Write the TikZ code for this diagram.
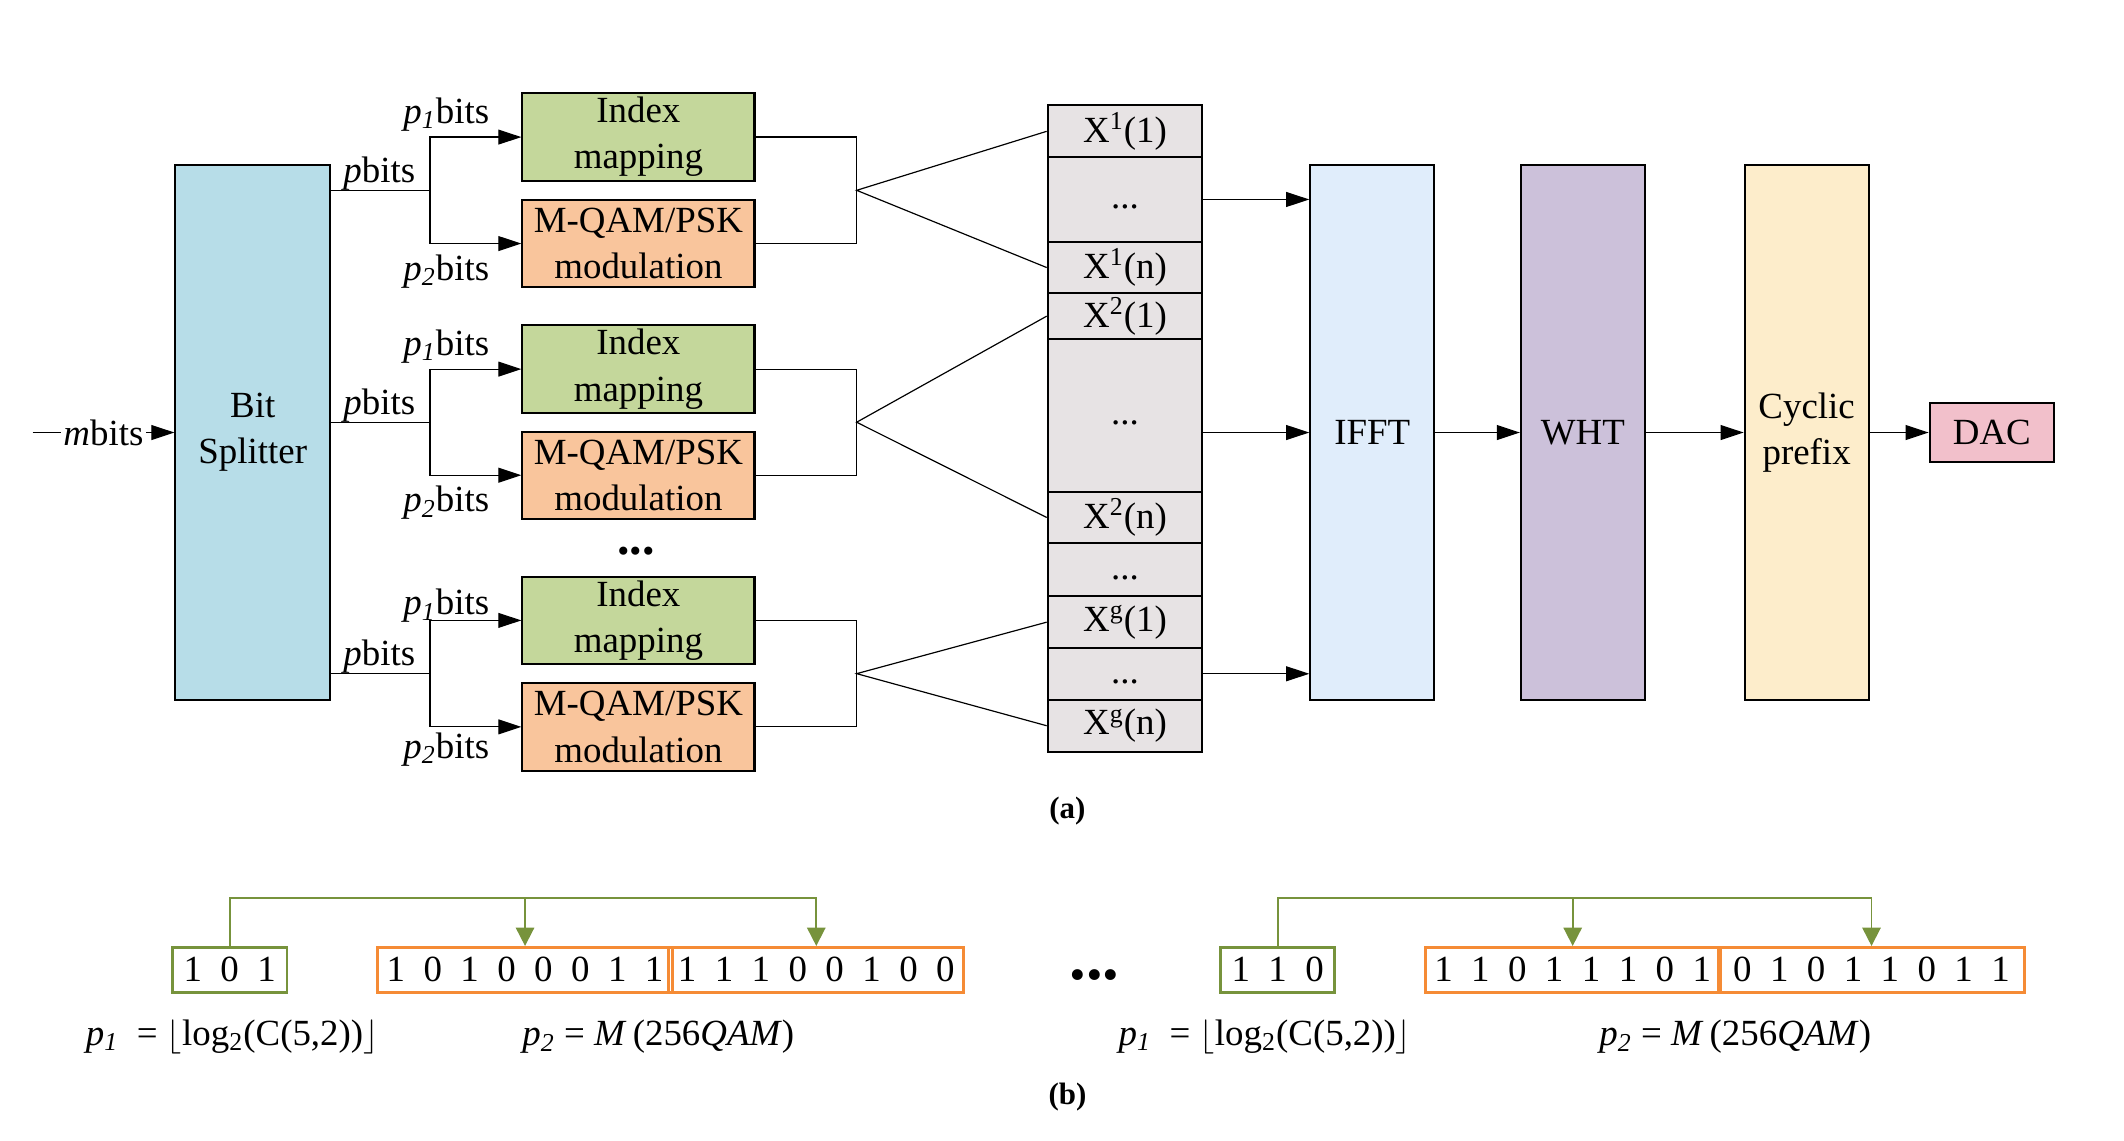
\documentclass[tikz,border=0pt]{standalone}
\usepackage{fontspec}
\setmainfont{Liberation Serif}
\usepackage{tikz}
\usetikzlibrary{arrows.meta, positioning, calc}
\definecolor{splitblue}{HTML}{B7DDE8}
\definecolor{idxgreen}{HTML}{C4D79B}
\definecolor{modorange}{HTML}{F9C59C}
\definecolor{cellgray}{HTML}{E7E3E4}
\definecolor{ifftblue}{HTML}{E0EDFB}
\definecolor{whtpurple}{HTML}{CCC1DA}
\definecolor{cpyellow}{HTML}{FDEDCB}
\definecolor{dacpink}{HTML}{F2C0CB}
\definecolor{lgreen}{HTML}{77933C}
\definecolor{lorange}{HTML}{F58B35}
\newcommand{\bitrow}[1]{\foreach \d in {#1}{\makebox[1em]{\d}}}
\tikzset{
    blk/.style={draw, line width=0.85pt, align=center, inner sep=0pt},
    tallbox/.style={blk, minimum width=1.83cm, minimum height=7.9cm},
    idxbox/.style={blk, fill=idxgreen, minimum width=3.428cm, minimum height=1.29cm},
    modbox/.style={blk, fill=modorange, minimum width=3.428cm, minimum height=1.29cm},
    cell/.style={blk, fill=cellgray, minimum width=2.284cm},
    link/.style={draw, line width=0.5pt},
    arr/.style={link, -{Triangle[length=0.34cm, width=0.22cm]}},
    lbl/.style={anchor=base, inner sep=0pt},
    bitbox/.style={draw, line width=1.2pt, inner sep=0pt, minimum height=0.664cm},
    gbox/.style={bitbox, draw=lgreen, minimum width=1.69cm},
    obox/.style={bitbox, draw=lorange, minimum width=4.30cm},
    gline/.style={draw=lgreen, line width=0.75pt, -{Triangle[length=0.27cm, width=0.27cm]}},
}

\begin{document}
\begin{tikzpicture}[x=0.02cm, y=-0.02cm, font=\fontsize{15.5}{19.4}\selectfont]
    \useasboundingbox (0,0) rectangle (1568,842.3);

    % (a) transmitter
    \node[blk, fill=splitblue, minimum width=2.284cm, minimum height=7.9cm] (split) at (186.6,319.3) {Bit\\Splitter};
    \coordinate (min) at (24,319.3);
    \draw[arr] (min) -- node[fill=white, inner sep=1pt] {\textit{m}bits} (split);

    \node[idxbox] (idx1) at (471.3,101.2) {Index\\mapping};
    \node[modbox] (mod1) at (471.3,179.8) {M-QAM/PSK\\modulation};
    \node[idxbox] (idx2) at (471.3,272.5) {Index\\mapping};
    \node[modbox] (mod2) at (471.3,350.8) {M-QAM/PSK\\modulation};
    \node[idxbox] (idx3) at (471.3,458) {Index\\mapping};
    \node[modbox] (mod3) at (471.3,536.6) {M-QAM/PSK\\modulation};
    \node[font=\fontsize{21}{23}\selectfont\bfseries] (dotsa) at (469.6,407) {...};

    \coordinate (j1) at (317.4,140.5);
    \coordinate (k1) at (632.4,140.5);
    \coordinate (j2) at (317.4,311.7);
    \coordinate (k2) at (632.4,311.7);
    \coordinate (j3) at (317.4,497.3);
    \coordinate (k3) at (632.4,497.3);

    \node[lbl] (p1a) at (329.5,91) {\textit{p}\textsubscript{\textit{1}}bits};
    \node[lbl] (pa) at (280,134.5) {\textit{p}bits};
    \node[lbl] (p2a) at (329.5,206.7) {\textit{p}\textsubscript{\textit{2}}bits};
    \node[lbl] (p1b) at (329.5,262.5) {\textit{p}\textsubscript{\textit{1}}bits};
    \node[lbl] (pb) at (280,305.7) {\textit{p}bits};
    \node[lbl] (p2b) at (329.5,377.8) {\textit{p}\textsubscript{\textit{2}}bits};
    \node[lbl] (p1c) at (329.5,454) {\textit{p}\textsubscript{\textit{1}}bits};
    \node[lbl] (pc) at (280,491.3) {\textit{p}bits};
    \node[lbl] (p2c) at (329.5,560) {\textit{p}\textsubscript{\textit{2}}bits};

    \draw[link] (split.east |- j1) -- (j1);
    \draw[arr] (j1) |- (idx1);
    \draw[arr] (j1) |- (mod1);
    \draw[link] (split.east |- j2) -- (j2);
    \draw[arr] (j2) |- (idx2);
    \draw[arr] (j2) |- (mod2);
    \draw[link] (split.east |- j3) -- (j3);
    \draw[arr] (j3) |- (idx3);
    \draw[arr] (j3) |- (mod3);

    \draw[link] (idx1) -| (k1) |- (mod1);
    \draw[link] (idx2) -| (k2) |- (mod2);
    \draw[link] (idx3) -| (k3) |- (mod3);

    % subcarrier table
    \node[cell, minimum height=0.766cm] (x11) at (830.5,96.95) {X\textsuperscript{1}(1)};
    \node[cell, minimum height=1.246cm] (x1d) at (830.5,147.25) {\strut...};
    \node[cell, minimum height=0.764cm] (x1n) at (830.5,197.5) {X\textsuperscript{1}(n)};
    \node[cell, minimum height=0.672cm] (x21) at (830.5,233.4) {X\textsuperscript{2}(1)};
    \node[cell, minimum height=2.254cm] (x2d) at (830.5,306.55) {\strut...};
    \node[cell, minimum height=0.764cm] (x2n) at (830.5,382) {X\textsuperscript{2}(n)};
    \node[cell, minimum height=0.784cm] (xdd) at (830.5,420.7) {\strut...};
    \node[cell, minimum height=0.76cm] (xg1) at (830.5,459.3) {X\textsuperscript{g}(1)};
    \node[cell, minimum height=0.764cm] (xgd) at (830.5,497.4) {\strut...};
    \node[cell, minimum height=0.77cm] (xgn) at (830.5,535.75) {X\textsuperscript{g}(n)};

    \draw[link] (x11.west) -- (k1) -- (x1n.west);
    \draw[link] (x21.west) -- (k2) -- (x2n.west);
    \draw[link] (xg1.west) -- (k3) -- (xgn.west);

    \node[tallbox, fill=ifftblue] (ifft) at (1013,319.3) {IFFT};
    \node[tallbox, fill=whtpurple] (wht) at (1168.5,319.3) {WHT};
    \node[tallbox, fill=cpyellow] (cp) at (1333.7,319.3) {Cyclic\\prefix};
    \node[blk, fill=dacpink, minimum width=1.836cm, minimum height=0.868cm] (dac) at (1470.4,319.3) {DAC};

    \draw[arr] (x1d) -- (x1d -| ifft.west);
    \draw[arr] (x2d.east |- ifft) -- (ifft);
    \draw[arr] (xgd) -- (xgd -| ifft.west);
    \draw[arr] (ifft) -- (wht);
    \draw[arr] (wht) -- (cp);
    \draw[arr] (cp) -- (dac);

    \node[font=\fontsize{13}{15}\selectfont\bfseries] (capa) at (788,599) {(a)};

    % (b) bit mapping
    \node[gbox] (g1) at (169.6,716) {\bitrow{1,0,1}};
    \node[obox] (o11) at (387.6,716) {\bitrow{1,0,1,0,0,0,1,1}};
    \node[obox] (o12) at (602.6,716) {\bitrow{1,1,1,0,0,1,0,0}};
    \node[gbox] (g2) at (943.2,716) {\bitrow{1,1,0}};
    \node[obox] (o21) at (1161,716) {\bitrow{1,1,0,1,1,1,0,1}};
    \node[obox, minimum width=4.514cm] (o22) at (1381.6,716) {\bitrow{0,1,0,1,1,0,1,1}};

    \coordinate (t1) at (169.6,663);
    \coordinate (t2) at (943.2,663);
    \draw[gline] (g1) -- (t1) -| (o12);
    \draw[gline] (o11 |- t1) -- (o11);
    \draw[gline] (g2) -- (t2) -| (o22);
    \draw[gline] (o21 |- t2) -- (o21);

    \node[font=\fontsize{28}{30}\selectfont\bfseries] (dotsb) at (808,719.8) {...};

    \node[lbl] (eq11) at (171.4,771.5) {\textit{p}\textsubscript{\textit{1}}\ \ = $\lfloor$log\textsubscript{2}(C(5,2))$\rfloor$};
    \node[lbl] (eq12) at (486,772) {\textit{p}\textsubscript{\textit{2}} = \textit{M}\,(256\textit{QAM})};
    \node[lbl] (eq21) at (933.8,771.5) {\textit{p}\textsubscript{\textit{1}}\ \ = $\lfloor$log\textsubscript{2}(C(5,2))$\rfloor$};
    \node[lbl] (eq22) at (1281,772) {\textit{p}\textsubscript{\textit{2}} = \textit{M}\,(256\textit{QAM})};

    \node[font=\fontsize{13}{15}\selectfont\bfseries] (capb) at (788,810) {(b)};
\end{tikzpicture}
\end{document}
